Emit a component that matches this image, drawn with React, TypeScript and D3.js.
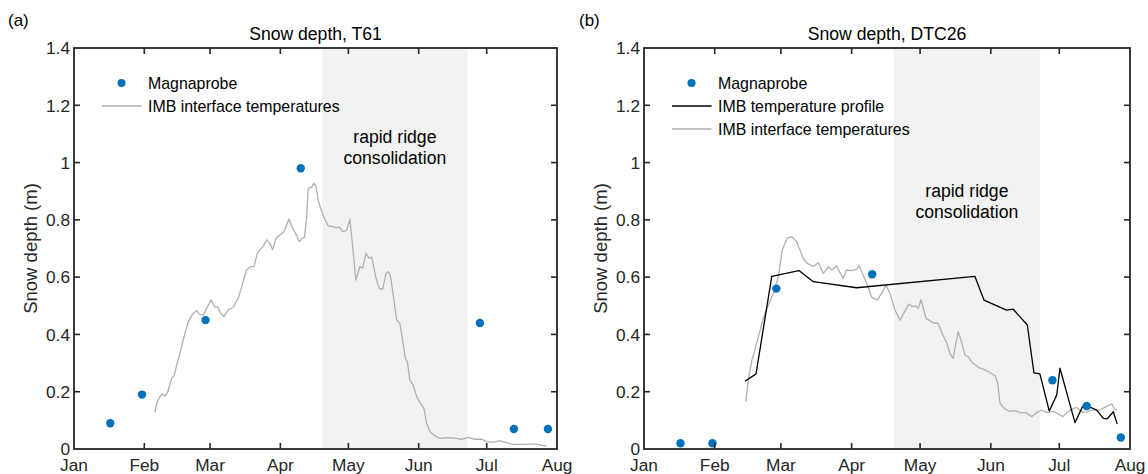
import React from "react";
import * as d3 from "d3";

// ---------- DATA ----------
const monthLabels = ["Jan", "Feb", "Mar", "Apr", "May", "Jun", "Jul", "Aug"];
const yTicks = [0, 0.2, 0.4, 0.6, 0.8, 1, 1.2, 1.4];

// days since 2020-01-01
const magnaDays = [16, 30, 58, 100, 179, 194, 209];
const t61Magna = [0.09, 0.19, 0.45, 0.98, 0.44, 0.07, 0.07];
const dtc26Magna = [0.02, 0.02, 0.56, 0.61, 0.24, 0.15, 0.04];

const consolidationStart = 109.5;
const consolidationEnd = 173.5;

const t61InterfaceDays = [35.7, 36.6, 37.9, 39.1, 40.1, 41.4, 43.1, 44.1, 45.5, 46.7, 48.5, 50.4, 52.3, 54.1, 55.2, 57, 58.5, 60.4, 62.2, 63.2, 64.7, 66.1, 68, 70.2, 72.4, 74.4, 76.1, 77.9, 79.4, 80.8, 82, 83.5, 85, 86.4, 87.6, 89.1, 90.8, 92.6, 93.8, 94.8, 96.4, 98.2, 99.3, 100.5, 101.6, 102.6, 103.3, 104.8, 105.7, 106.7, 107.7, 109.2, 110.7, 112.1, 114.3, 115.8, 117, 118.5, 120.2, 121.7, 122.9, 124.3, 126.1, 127.3, 128.7, 130.2, 131.3, 133.2, 134.6, 136.1, 137.6, 138.6, 139.6, 141.1, 142.3, 143.7, 144.9, 146.1, 147, 148.1, 149.6, 151.1, 152.6, 154.3, 155.5, 157, 159.2, 161.4, 165, 168.7, 170.9, 173.9, 176.8, 179.8, 182, 184.9, 187.8, 190.8, 193.7, 197.4, 201.1, 204.3, 206.2, 208.4];
const t61InterfaceDepth = [0.128, 0.163, 0.183, 0.192, 0.185, 0.2, 0.247, 0.255, 0.299, 0.334, 0.392, 0.444, 0.471, 0.483, 0.471, 0.467, 0.491, 0.52, 0.495, 0.497, 0.474, 0.462, 0.485, 0.495, 0.526, 0.579, 0.625, 0.637, 0.637, 0.683, 0.695, 0.709, 0.73, 0.718, 0.695, 0.736, 0.747, 0.759, 0.782, 0.803, 0.771, 0.745, 0.724, 0.735, 0.738, 0.811, 0.91, 0.914, 0.928, 0.917, 0.869, 0.829, 0.8, 0.779, 0.776, 0.772, 0.775, 0.759, 0.763, 0.802, 0.706, 0.59, 0.637, 0.631, 0.683, 0.666, 0.67, 0.596, 0.561, 0.557, 0.613, 0.619, 0.602, 0.52, 0.45, 0.439, 0.381, 0.317, 0.305, 0.241, 0.223, 0.183, 0.162, 0.142, 0.09, 0.06, 0.045, 0.037, 0.04, 0.037, 0.034, 0.041, 0.034, 0.034, 0.026, 0.024, 0.028, 0.022, 0.016, 0.016, 0.017, 0.017, 0.013, 0.011];

const dtc26InterfaceDays = [44.6, 45.7, 47.3, 48.6, 51.3, 53, 56.7, 58.9, 60.6, 62.8, 64.7, 66.9, 69.8, 71.6, 74.2, 76.4, 78.6, 80.8, 82.3, 84.4, 85.6, 87.3, 88.8, 91, 93.2, 94.3, 96.1, 98.3, 99.8, 102.2, 104.2, 106, 107.8, 110, 112.2, 114.5, 116, 117.7, 119.2, 120.2, 121.4, 123.6, 124.9, 126.8, 128.8, 130.9, 132.6, 134.3, 135.5, 136.7, 137.7, 138.9, 140.7, 142.1, 144, 146.5, 149.4, 151.6, 154, 155, 156, 158.2, 160.4, 162.6, 164.8, 167.4, 169.9, 172.1, 174.3, 176.5, 179.7, 183.5, 186.7, 189.6, 192.5, 196.2, 199.8, 202.5, 205, 206.4, 207.4];
const dtc26InterfaceDepth = [0.165, 0.24, 0.31, 0.346, 0.427, 0.474, 0.544, 0.602, 0.695, 0.736, 0.741, 0.724, 0.666, 0.648, 0.637, 0.65, 0.613, 0.637, 0.625, 0.64, 0.62, 0.596, 0.625, 0.623, 0.628, 0.64, 0.607, 0.564, 0.53, 0.52, 0.544, 0.573, 0.544, 0.485, 0.45, 0.483, 0.506, 0.497, 0.5, 0.49, 0.521, 0.456, 0.45, 0.44, 0.439, 0.4, 0.372, 0.33, 0.316, 0.369, 0.41, 0.381, 0.328, 0.322, 0.301, 0.285, 0.276, 0.267, 0.255, 0.23, 0.16, 0.139, 0.131, 0.134, 0.127, 0.127, 0.113, 0.127, 0.136, 0.127, 0.131, 0.113, 0.136, 0.145, 0.127, 0.136, 0.136, 0.148, 0.157, 0.136, 0.139];

const dtc26ProfileDays = [44.3, 49.1, 56, 67.9, 74.2, 93.2, 145, 149, 158.9, 161.8, 168, 170.9, 173.5, 177.6, 180.9, 182.3, 188.9, 192.2, 196.2, 198.4, 201.3, 203, 205.7, 207.4];
const dtc26ProfileDepth = [0.237, 0.262, 0.603, 0.623, 0.584, 0.563, 0.603, 0.52, 0.485, 0.488, 0.433, 0.266, 0.262, 0.133, 0.189, 0.282, 0.092, 0.148, 0.144, 0.136, 0.107, 0.105, 0.13, 0.087];

// ---------- STYLE ----------
const FONT = "'Liberation Sans', Arial, Helvetica, sans-serif";
const AX = "#262626";
const BLUE = "#0072BD";
const GRAY = "#b0b0b0";
const SHADE = "#f2f2f2";

const T0 = Date.UTC(2020, 0, 1);
const dayToDate = (d: number) => new Date(T0 + d * 86400000);

type Series = { days: number[]; vals: number[]; color: string; label: string };

function Panel(props: {
  x0: number; x1: number; y0: number; y1: number;
  tag: string; tagX: number; title: string; ylabelX: number;
  magna: number[]; lines: Series[]; annotY: number;
}) {
  const { x0, x1, y0, y1, tag, tagX, title, ylabelX, magna, lines, annotY } = props;
  const x = d3.scaleUtc().domain([new Date(T0), new Date(Date.UTC(2020, 7, 1))]).range([x0, x1]);
  const y = d3.scaleLinear().domain([0, 1.4]).range([y1, y0]);
  const months = d3.utcMonth.range(new Date(T0), new Date(Date.UTC(2020, 7, 2)));
  const tl = 6;
  const fmtY = (v: number) => d3.format("~g")(+v.toFixed(1));

  const legendItems: ({ kind: "dot" } | { kind: "line"; color: string })[] = [{ kind: "dot" }];
  const legendLabels = ["Magnaprobe"];
  lines.slice().reverse().forEach((s) => { legendItems.push({ kind: "line", color: s.color }); legendLabels.push(s.label); });

  const sx = x(dayToDate(consolidationStart));
  const ex = x(dayToDate(consolidationEnd));
  const lx = x0 + 28;
  return (
    <g>
      <text x={tagX} y={26} fontSize={17} fontFamily={FONT} fill="#000">{tag}</text>
      <text x={(x0 + x1) / 2} y={39.5} fontSize={17.6} fontFamily={FONT} fill="#000" textAnchor="middle">{title}</text>
      <rect x={sx} y={y0} width={ex - sx} height={y1 - y0} fill={SHADE} />
      <text textAnchor="middle" fontSize={17.6} fontFamily={FONT} fill="#000" x={(sx + ex) / 2} y={y(annotY) + 6}>
        <tspan>rapid ridge</tspan>
        <tspan x={(sx + ex) / 2} dy={21}>consolidation</tspan>
      </text>
      {lines.map((s, i) => {
        const pts: [number, number][] = s.days.map((d, j) => [x(dayToDate(d)), y(s.vals[j])]);
        return <path key={i} d={d3.line()(pts) || ""} fill="none" stroke={s.color} strokeWidth={1.3} strokeLinejoin="round" />;
      })}
      {magna.map((v, i) => (
        <circle key={i} cx={x(dayToDate(magnaDays[i]))} cy={y(v)} r={4.2} fill={BLUE} />
      ))}
      <rect x={x0} y={y0} width={x1 - x0} height={y1 - y0} fill="none" stroke={AX} strokeWidth={1.8} />
      {months.map((m, i) => {
        const px = x(m);
        return (
          <g key={i}>
            {i > 0 && i < months.length - 1 && (
              <>
                <line x1={px} x2={px} y1={y1} y2={y1 - tl} stroke={AX} strokeWidth={1.6} />
                <line x1={px} x2={px} y1={y0} y2={y0 + tl} stroke={AX} strokeWidth={1.6} />
              </>
            )}
            <text x={px} y={470.5} textAnchor="middle" fontSize={17.3} fontFamily={FONT} fill={AX}>{monthLabels[i]}</text>
          </g>
        );
      })}
      {yTicks.map((v, i) => (
        <g key={i}>
          {i > 0 && i < yTicks.length - 1 && (
            <>
              <line x1={x0} x2={x0 + tl} y1={y(v)} y2={y(v)} stroke={AX} strokeWidth={1.6} />
              <line x1={x1} x2={x1 - tl} y1={y(v)} y2={y(v)} stroke={AX} strokeWidth={1.6} />
            </>
          )}
          <text x={x0 - 4} y={y(v) + 6.3} textAnchor="end" fontSize={17.3} fontFamily={FONT} fill={AX}>{fmtY(v)}</text>
        </g>
      ))}
      <text transform={`translate(${ylabelX},${(y0 + y1) / 2}) rotate(-90)`} textAnchor="middle"
        fontSize={18.5} fontFamily={FONT} fill={AX}>Snow depth (m)</text>
      {legendItems.map((it, i) => {
        const ly = 83 + i * 23;
        return (
          <g key={i}>
            {it.kind === "dot" ? (
              <circle cx={lx + 19.5} cy={ly} r={4} fill={BLUE} />
            ) : (
              <line x1={lx} x2={lx + 39.5} y1={ly} y2={ly} stroke={it.color} strokeWidth={1.3} />
            )}
            <text x={lx + 46} y={ly + 5.6} fontSize={15.9} fontFamily={FONT} fill="#000">{legendLabels[i]}</text>
          </g>
        );
      })}
    </g>
  );
}

export default function App() {
  return (
    <svg width={1148} height={474} style={{ position: "absolute", left: 0, top: 0, background: "#fff" }}>
      <rect x={0} y={0} width={1148} height={474} fill="#fff" />
      <Panel x0={74} x1={557} y0={48} y1={449} tag="(a)" tagX={8} title="Snow depth, T61" ylabelX={37}
        magna={t61Magna} annotY={1.09}
        lines={[{ days: t61InterfaceDays, vals: t61InterfaceDepth, color: GRAY, label: "IMB interface temperatures" }]} />
      <Panel x0={644} x1={1130} y0={48} y1={449} tag="(b)" tagX={579} title="Snow depth, DTC26" ylabelX={607}
        magna={dtc26Magna} annotY={0.9}
        lines={[
          { days: dtc26InterfaceDays, vals: dtc26InterfaceDepth, color: GRAY, label: "IMB interface temperatures" },
          { days: dtc26ProfileDays, vals: dtc26ProfileDepth, color: "#000", label: "IMB temperature profile" },
        ]} />
    </svg>
  );
}
